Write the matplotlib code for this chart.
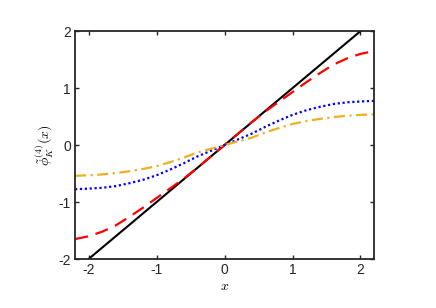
import matplotlib
matplotlib.use("Agg")
import matplotlib.pyplot as plt

plt.rcParams['font.family'] = ['Liberation Sans', 'DejaVu Sans']
plt.rcParams['mathtext.fontset'] = 'cm'
plt.rcParams['axes.unicode_minus'] = False

# Data
x = [-2.2, -2.0, -1.8, -1.6, -1.4, -1.2, -1.0, -0.8, -0.6, -0.4, -0.2, 0.0,
     0.2, 0.4, 0.6, 0.8, 1.0, 1.2, 1.4, 1.6, 1.8, 2.0, 2.2]
red = [-1.65, -1.60, -1.52, -1.41, -1.26, -1.10, -0.93, -0.76, -0.59, -0.40, -0.20, 0.0,
       0.20, 0.40, 0.59, 0.76, 0.93, 1.10, 1.26, 1.41, 1.52, 1.60, 1.65]
blue = [-0.775, -0.765, -0.75, -0.72, -0.67, -0.61, -0.53, -0.43, -0.32, -0.20, -0.10, 0.0,
        0.10, 0.20, 0.32, 0.43, 0.53, 0.61, 0.67, 0.72, 0.75, 0.765, 0.775]
orange = [-0.54, -0.53, -0.515, -0.49, -0.46, -0.42, -0.37, -0.30, -0.22, -0.13, -0.065, 0.0,
          0.065, 0.13, 0.22, 0.30, 0.37, 0.42, 0.46, 0.49, 0.515, 0.53, 0.54]
line_x = [-2.2, 2.2]
line_y = [-2.2, 2.2]

fig = plt.figure(figsize=(4.36, 3.08), dpi=100)
ax = fig.add_axes([0.172, 0.159, 0.686, 0.740])

ax.plot(line_x, line_y, color='black', lw=1.5, ls='-')
ax.plot(x, red, color='#ff0000', lw=1.6, ls=(0, (6, 3.5)))
ax.plot(x, blue, color='#0000ff', lw=1.6, ls=(0, (1, 1.2)))
ax.plot(x, orange, color='#edb120', lw=1.6, ls=(0, (5, 2, 1, 2)))

ax.set_xlim(-2.2, 2.2)
ax.set_ylim(-2, 2)
ax.set_xticks([-2, -1, 0, 1, 2])
ax.set_yticks([-2, -1, 0, 1, 2])
ax.tick_params(direction='in', top=True, right=True, length=3, width=1,
               labelsize=10, colors='#262626', pad=3)
for s in ax.spines.values():
    s.set_linewidth(1.3)
    s.set_color('#262626')

ax.set_xlabel(r'$x$', fontsize=10, labelpad=1)
ax.set_ylabel(r'$\tilde{\phi}_K^{(4)}(x)$', fontsize=10, labelpad=2)

fig.savefig('out.png', dpi=100)
